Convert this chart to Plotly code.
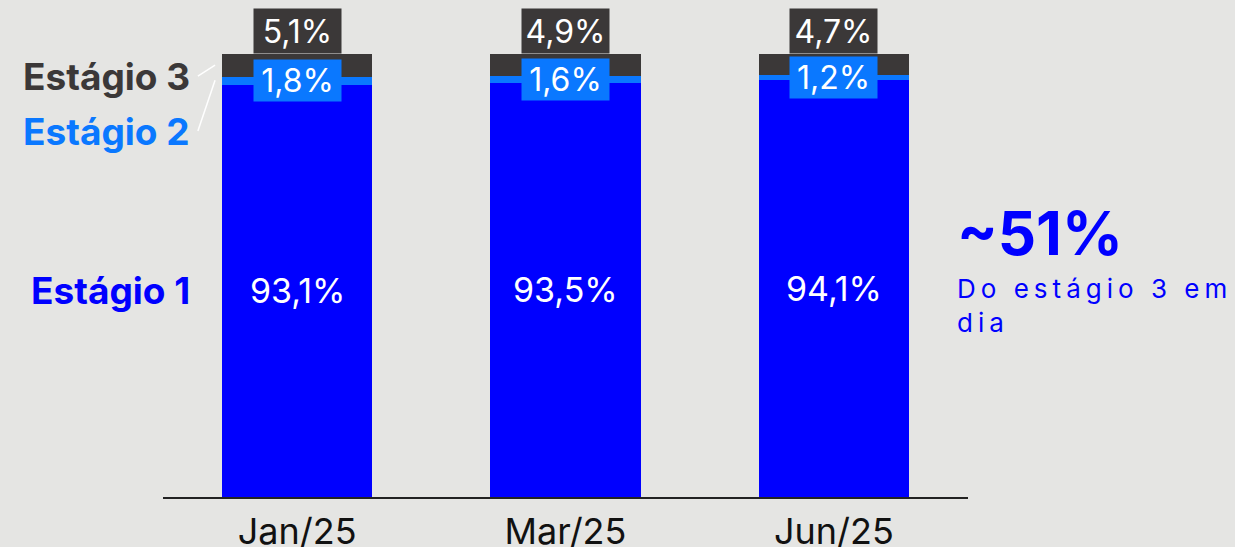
import plotly.graph_objects as go

categories = ["Jan/25", "Mar/25", "Jun/25"]
stage1 = [93.1, 93.5, 94.1]
stage2 = [1.8, 1.6, 1.2]
stage3 = [5.1, 4.9, 4.7]
stage_names = ["Estágio 1", "Estágio 2", "Estágio 3"]
headline = "~51%"
headline_sub = "Do estágio 3 em<br>dia"

C1 = "#0000ff"
C2 = "#0a78ff"
C3 = "#3b3838"
BG = "#e5e5e3"
FONT = "Inter, Roboto, sans-serif"

def fmt(v):
    return f"{v:.1f}".replace(".", ",") + "%"

fig = go.Figure()
for vals, col, name in [(stage1, C1, stage_names[0]), (stage2, C2, stage_names[1]), (stage3, C3, stage_names[2])]:
    fig.add_trace(go.Bar(x=categories, y=vals, marker=dict(color=col, line=dict(width=0)),
                         name=name, showlegend=False, hoverinfo="skip"))

ann = []
for i, c in enumerate(categories):
    ann.append(dict(x=c, y=stage1[i] / 2, text=fmt(stage1[i]), showarrow=False,
                    font=dict(family=FONT, size=34, color="white")))
    ann.append(dict(x=c, y=stage1[i] + stage2[i] / 2, text=fmt(stage2[i]), showarrow=False,
                    font=dict(family=FONT, size=32, color="white"), bgcolor=C2,
                    width=87, height=41, borderpad=0))
    total = stage1[i] + stage2[i] + stage3[i]
    ann.append(dict(x=c, y=total, yanchor="bottom", text=fmt(stage3[i]), showarrow=False,
                    font=dict(family=FONT, size=32, color="white"), bgcolor=C3,
                    width=87, height=44, borderpad=0))

lx = -0.392
ann.append(dict(x=lx, y=95.0, xanchor="right", text=f"<b>{stage_names[2]}</b>", showarrow=False,
                font=dict(family=FONT, size=37, color=C3, weight=800)))
ann.append(dict(x=lx, y=82.4, xanchor="right", text=f"<b>{stage_names[1]}</b>", showarrow=False,
                font=dict(family=FONT, size=37, color=C2, weight=800)))
ann.append(dict(x=lx, y=stage1[0] / 2, xanchor="right", text=f"<b>{stage_names[0]}</b>", showarrow=False,
                font=dict(family=FONT, size=37, color=C1, weight=800)))

ann.append(dict(xref="paper", yref="paper", x=0.984, y=0.595, xanchor="left", yanchor="middle",
                text=f"<b>{headline}</b>", showarrow=False, font=dict(family=FONT, size=60, color=C1, weight=800)))
ann.append(dict(xref="paper", yref="paper", x=0.984, y=0.51, xanchor="left", yanchor="top", align="left",
                text=headline_sub, showarrow=False, font=dict(family=FONT, size=26, color=C1)))

shapes = [
    dict(type="line", x0=-0.370, y0=95.0, x1=-0.306, y1=97.5, line=dict(color="white", width=1.5)),
    dict(type="line", x0=-0.370, y0=82.6, x1=-0.306, y1=94.1, line=dict(color="white", width=1.5)),
]

fig.update_layout(
    barmode="stack", bargap=0.44,
    width=1235, height=547,
    margin=dict(l=163, r=267, t=54, b=50, autoexpand=False),
    paper_bgcolor=BG, plot_bgcolor=BG,
    annotations=ann, shapes=shapes,
    xaxis=dict(range=[-0.5, 2.5], showline=True, linecolor="#222222", linewidth=2, ticks="",
               tickfont=dict(family=FONT, size=36, color="#111111"), showgrid=False,
               ticklabelstandoff=2, automargin=False),
    yaxis=dict(range=[0, 100], visible=False, showgrid=False, automargin=False),
)

post = """
document.body.style.margin='0';
document.querySelectorAll('.annotation-text').forEach(function(t){
  if (t.textContent.indexOf('Do est') === 0) { t.style.letterSpacing = '5px'; }
});
"""
fig.write_html("out.html", post_script=post, config={"displayModeBar": False})
